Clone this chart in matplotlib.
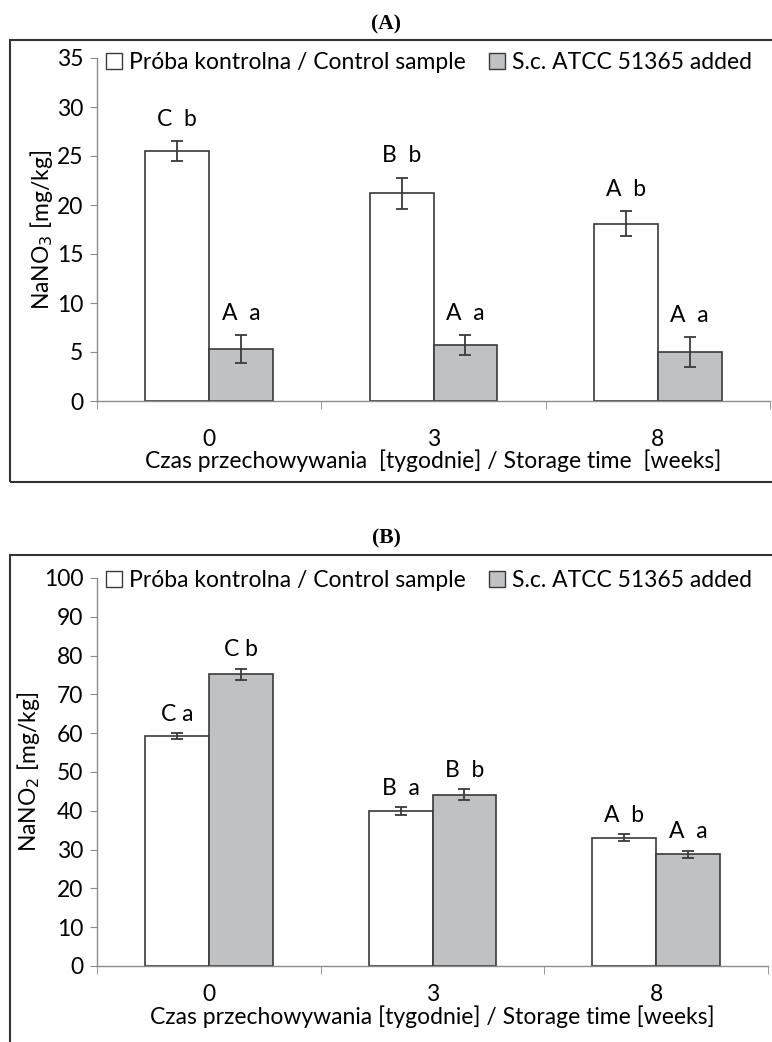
import numpy as np
import matplotlib.pyplot as plt
from matplotlib.patches import Rectangle

weeks = ["0", "3", "8"]
series = ["Próba kontrolna / Control sample", "S.c. ATCC 51365 added"]

# panel A - NaNO3
a_ctrl = [25.5, 21.2, 18.1]
a_ctrl_err = [1.05, 1.6, 1.3]
a_sc = [5.3, 5.7, 5.0]
a_sc_err = [1.45, 1.0, 1.5]
a_ctrl_lab = ["C  b", "B  b", "A  b"]
a_sc_lab = ["A  a", "A  a", "A  a"]

# panel B - NaNO2
b_ctrl = [59.2, 40.0, 33.0]
b_ctrl_err = [0.8, 1.0, 0.9]
b_sc = [75.2, 44.2, 28.8]
b_sc_err = [1.4, 1.3, 0.9]
b_ctrl_lab = ["C a", "B  a", "A  b"]
b_sc_lab = ["C b", "B  b", "A  a"]

plt.rcParams["font.family"] = ["Lato", "DejaVu Sans"]
W, H = 772, 1042
FS = 16.5
fig = plt.figure(figsize=(W / 100, H / 100), dpi=100)

EDGE = "#3a3a3a"
AX = "#8c8c8c"
GREY = "#c0c1c3"


def fy(px):
    return 1 - px / H


def panel(top_px, bot_px, right_px, ctrl, ctrl_err, sc, sc_err, ctrl_lab, sc_lab,
          ymax, ystep, ylabel, xlabel, lab_off, xpad):
    ax = fig.add_axes([97 / W, fy(bot_px), (right_px - 97) / W, (bot_px - top_px) / H])
    x = np.arange(len(weeks))
    w = 0.285
    ek = dict(ecolor=EDGE, elinewidth=1.3, capsize=4, capthick=1.3)
    ax.bar(x - w / 2, ctrl, w, yerr=ctrl_err, color="white", edgecolor=EDGE,
           linewidth=1.2, label=series[0], error_kw=ek)
    ax.bar(x + w / 2, sc, w, yerr=sc_err, color=GREY, edgecolor=EDGE,
           linewidth=1.2, label=series[1], error_kw=ek)
    for xi, v, e, t in zip(x - w / 2, ctrl, ctrl_err, ctrl_lab):
        ax.annotate(t, (xi, v + e), xytext=(0, lab_off), textcoords="offset points",
                    ha="center", va="bottom", fontsize=FS)
    for xi, v, e, t in zip(x + w / 2, sc, sc_err, sc_lab):
        ax.annotate(t, (xi, v + e), xytext=(0, lab_off), textcoords="offset points",
                    ha="center", va="bottom", fontsize=FS)
    ax.set_xlim(-0.5, 2.5)
    ax.set_ylim(0, ymax)
    ax.set_yticks(np.arange(0, ymax + 1, ystep))
    ax.set_xticks(x)
    ax.set_xticklabels(weeks)
    ax.set_xticks([-0.5, 0.5, 1.5, 2.5], minor=True)
    ax.tick_params(axis="x", which="major", length=0, labelsize=FS, pad=xpad)
    ax.tick_params(axis="x", which="minor", length=6, color=AX, direction="out")
    ax.tick_params(axis="y", length=5, color=AX, labelsize=FS, pad=5)
    for s in ["top", "right"]:
        ax.spines[s].set_visible(False)
    for s in ["left", "bottom"]:
        ax.spines[s].set_color(AX)
        ax.spines[s].set_linewidth(1.0)
    ax.set_xlabel(xlabel, fontsize=FS, labelpad=0)
    ax.set_ylabel(ylabel, fontsize=FS, labelpad=1)
    leg = ax.legend(loc="upper left", bbox_to_anchor=(0.0, 1.045), ncol=2, frameon=False,
                    fontsize=FS, handlelength=0.7, handleheight=0.7, handletextpad=0.3,
                    columnspacing=1.0, borderaxespad=0)
    for h in leg.legend_handles:
        h.set_linewidth(1.0)
    return ax


panel(58, 401, 770, a_ctrl, a_ctrl_err, a_sc, a_sc_err, a_ctrl_lab, a_sc_lab,
      35, 5, "NaNO$_3$ [mg/kg]", "Czas przechowywania  [tygodnie] / Storage time  [weeks]", 8, 20)
panel(578, 966, 768, b_ctrl, b_ctrl_err, b_sc, b_sc_err, b_ctrl_lab, b_sc_lab,
      100, 10, "NaNO$_2$ [mg/kg]", "Czas przechowywania [tygodnie] / Storage time [weeks]", 6, 13)

# panel frames
fig.add_artist(Rectangle((10 / W, fy(482)), 1.0, (482 - 40) / H, transform=fig.transFigure,
                         fill=False, edgecolor="#333333", linewidth=1.5))
fig.add_artist(Rectangle((10 / W, fy(1060)), 1.0, (1060 - 555) / H, transform=fig.transFigure,
                         fill=False, edgecolor="#333333", linewidth=1.5))

fig.text(386 / W, fy(24), "(A)", ha="center", va="center", fontsize=15.5,
         fontweight="bold", family="Liberation Serif")
fig.text(386 / W, fy(538), "(B)", ha="center", va="center", fontsize=15.5,
         fontweight="bold", family="Liberation Serif")

fig.savefig("out.png", dpi=100)
